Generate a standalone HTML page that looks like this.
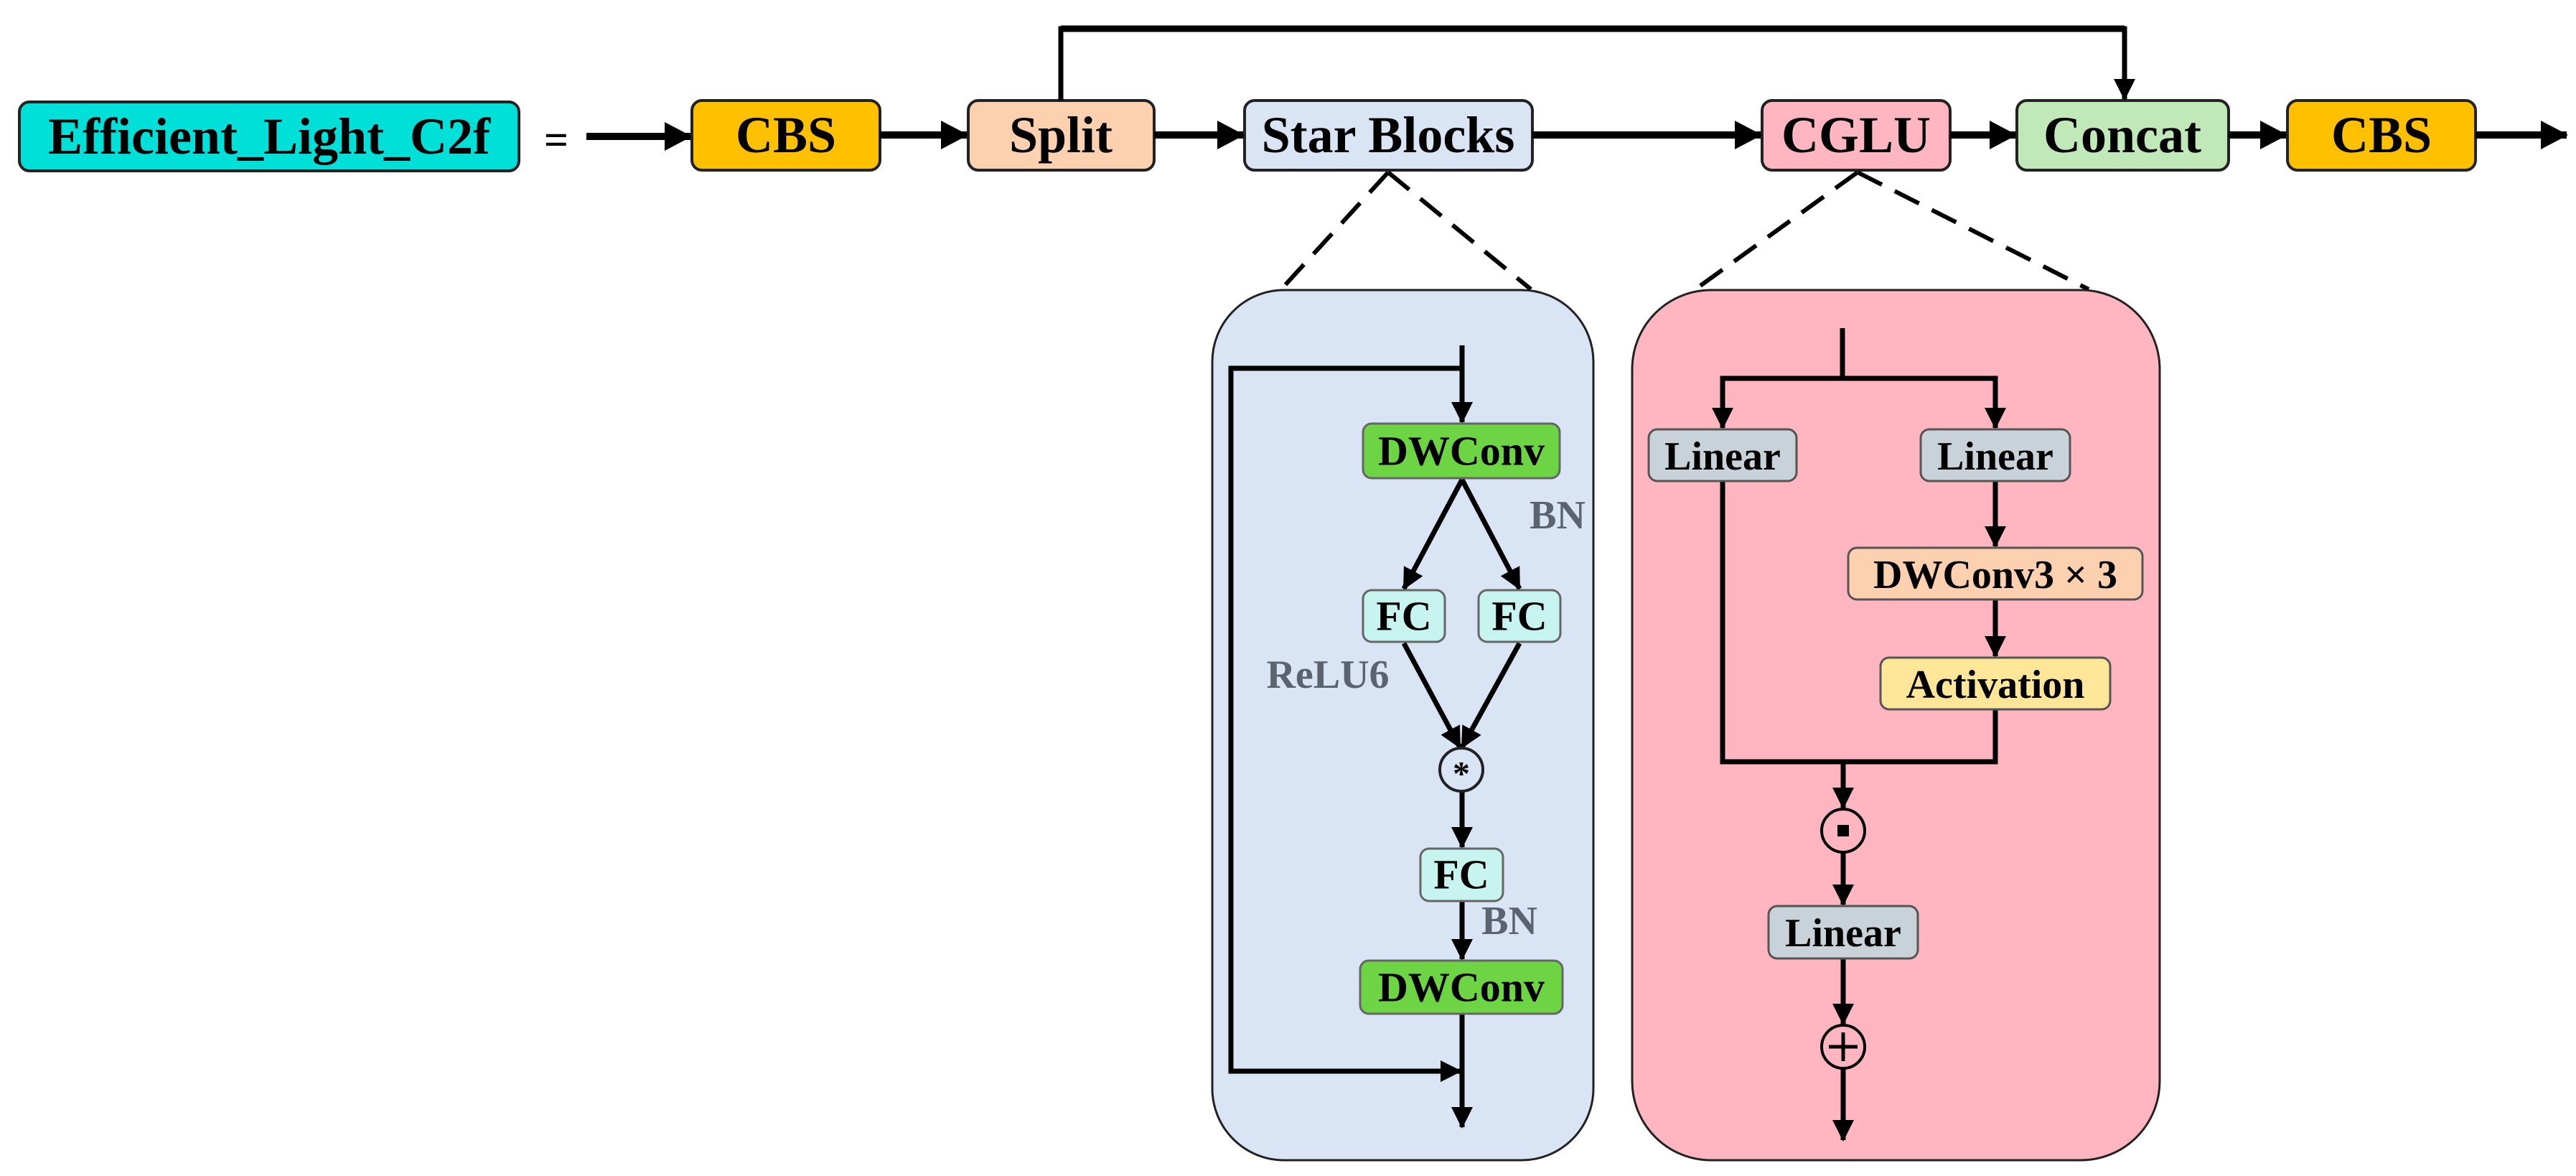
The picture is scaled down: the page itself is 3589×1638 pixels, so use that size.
<!DOCTYPE html>
<html><head><meta charset="utf-8"><style>
html,body{margin:0;padding:0;background:#fff}
svg{display:block}
text{font-family:"Liberation Serif",serif;font-weight:bold;text-anchor:middle;dominant-baseline:central}
</style></head><body>
<svg width="3589" height="1638" viewBox="0 0 3589 1638" xmlns="http://www.w3.org/2000/svg">
<defs>
<marker id="a" markerUnits="userSpaceOnUse" markerWidth="44" markerHeight="44" refX="36" refY="20" orient="auto"><path d="M0,0 L38,20 L0,40 z" fill="#000"/></marker>
<marker id="b" markerUnits="userSpaceOnUse" markerWidth="40" markerHeight="40" refX="28" refY="15" orient="auto"><path d="M0,0 L30,15 L0,30 z" fill="#000"/></marker>
</defs>

<g stroke="#222" stroke-width="4">
<rect x="27" y="142" width="696" height="96" rx="14" fill="#00e0d8"/>
<rect x="964" y="140" width="262" height="97" rx="14" fill="#ffc000"/>
<rect x="1349" y="140" width="259" height="97" rx="14" fill="#fdd0b0"/>
<rect x="1734" y="140" width="401" height="97" rx="14" fill="#d9e4f4"/>
<rect x="2455" y="140" width="262" height="97" rx="14" fill="#ffb6c1"/>
<rect x="2810" y="140" width="295" height="97" rx="14" fill="#c0e8b8"/>
<rect x="3187" y="140" width="262" height="97" rx="14" fill="#ffc000"/>
</g>
<g font-size="72">
<text x="375" y="190">Efficient_Light_C2f</text>
<text x="1095" y="188">CBS</text>
<text x="1478" y="188">Split</text>
<text x="1934" y="188">Star Blocks</text>
<text x="2586" y="188">CGLU</text>
<text x="2957" y="188">Concat</text>
<text x="3318" y="188">CBS</text>
</g>
<text x="775" y="195" font-size="60" font-weight="normal">=</text>

<g stroke="#000" stroke-width="10" fill="none" marker-end="url(#a)">
<line x1="817" y1="190" x2="962" y2="190"/>
<line x1="1226" y1="188" x2="1347" y2="188"/>
<line x1="1608" y1="188" x2="1732" y2="188"/>
<line x1="2135" y1="188" x2="2453" y2="188"/>
<line x1="2717" y1="188" x2="2808" y2="188"/>
<line x1="3105" y1="188" x2="3185" y2="188"/>
<line x1="3449" y1="188" x2="3576" y2="188"/>
</g>
<polyline points="1478,140 1478,40 2960,40 2960,138" stroke="#000" stroke-width="7" fill="none" marker-end="url(#b)"/>
<line x1="1478" y1="40" x2="2960" y2="40" stroke="#000" stroke-width="9"/>

<g stroke="#000" stroke-width="6" stroke-dasharray="38,20" fill="none">
<line x1="1934" y1="240" x2="1785" y2="403"/>
<line x1="1934" y1="240" x2="2133" y2="403"/>
<line x1="2588" y1="240" x2="2362" y2="403"/>
<line x1="2588" y1="240" x2="2910" y2="403"/>
</g>

<rect x="1689" y="404" width="531" height="1212" rx="100" fill="#d9e4f5" stroke="#222" stroke-width="3"/>
<rect x="2274" y="404" width="735" height="1212" rx="110" fill="#ffb6c1" stroke="#222" stroke-width="3"/>

<g stroke="#000" stroke-width="7" fill="none">
<line x1="2037" y1="481" x2="2037" y2="588" marker-end="url(#b)"/>
<polyline points="2037,513 1715,513 1715,1492 2035,1492" marker-end="url(#b)"/>
<line x1="2037" y1="668" x2="1956" y2="820" marker-end="url(#b)"/>
<line x1="2037" y1="668" x2="2117" y2="820" marker-end="url(#b)"/>
<line x1="1956" y1="896" x2="2034" y2="1041" marker-end="url(#b)"/>
<line x1="2117" y1="896" x2="2037" y2="1041" marker-end="url(#b)"/>
<line x1="2037" y1="1100" x2="2037" y2="1180" marker-end="url(#b)"/>
<line x1="2037" y1="1256" x2="2037" y2="1336" marker-end="url(#b)"/>
<line x1="2037" y1="1412" x2="2037" y2="1570" marker-end="url(#b)"/>
</g>
<g stroke="#666" stroke-width="3">
<rect x="1899" y="590" width="274" height="76" rx="12" fill="#6dd444"/>
<rect x="1899" y="822" width="114" height="72" rx="12" fill="#c8f4f0"/>
<rect x="2060" y="822" width="114" height="72" rx="12" fill="#c8f4f0"/>
<rect x="1979" y="1182" width="115" height="73" rx="12" fill="#c8f4f0"/>
<rect x="1895" y="1338" width="282" height="74" rx="12" fill="#6dd444"/>
</g>
<circle cx="2036" cy="1072" r="30" fill="#d9e4f5" stroke="#222" stroke-width="4"/>
<text x="2036" y="1078" font-size="48">*</text>
<g font-size="58">
<text x="2036" y="628">DWConv</text>
<text x="1956" y="858">FC</text>
<text x="2117" y="858">FC</text>
<text x="2036" y="1218">FC</text>
<text x="2036" y="1375">DWConv</text>
</g>
<g font-size="56" fill="#5c6370">
<text x="2170" y="718">BN</text>
<text x="1850" y="940">ReLU6</text>
<text x="2103" y="1283">BN</text>
</g>

<g stroke="#000" stroke-width="7" fill="none">
<polyline points="2567,457 2567,527"/>
<polyline points="2400,596 2400,527 2780,527 2780,596"/>
<line x1="2400" y1="527" x2="2400" y2="596" marker-end="url(#b)"/>
<line x1="2780" y1="527" x2="2780" y2="596" marker-end="url(#b)"/>
<line x1="2780" y1="670" x2="2780" y2="761" marker-end="url(#b)"/>
<line x1="2780" y1="835" x2="2780" y2="914" marker-end="url(#b)"/>
<polyline points="2400,670 2400,1061 2780,1061 2780,988"/>
<line x1="2568" y1="1061" x2="2568" y2="1125" marker-end="url(#b)"/>
<line x1="2568" y1="1187" x2="2568" y2="1260" marker-end="url(#b)"/>
<line x1="2568" y1="1335" x2="2568" y2="1426" marker-end="url(#b)"/>
<line x1="2568" y1="1488" x2="2568" y2="1588" marker-end="url(#b)"/>
</g>
<g stroke="#555" stroke-width="3">
<rect x="2297" y="598" width="206" height="72" rx="12" fill="#c8d2d8"/>
<rect x="2676" y="598" width="208" height="72" rx="12" fill="#c8d2d8"/>
<rect x="2575" y="763" width="410" height="72" rx="12" fill="#fdd0b0"/>
<rect x="2620" y="916" width="320" height="72" rx="12" fill="#ffe699"/>
<rect x="2464" y="1262" width="208" height="73" rx="12" fill="#c8d2d8"/>
</g>
<circle cx="2568" cy="1157" r="30" fill="none" stroke="#000" stroke-width="4"/>
<rect x="2560" y="1149" width="16" height="16" fill="#000"/>
<circle cx="2568" cy="1458" r="30" fill="none" stroke="#000" stroke-width="4"/>
<path d="M2548,1458 H2588 M2568,1438 V1478" stroke="#000" stroke-width="5"/>
<g font-size="56">
<text x="2400" y="636">Linear</text>
<text x="2780" y="636">Linear</text>
<text x="2780" y="801">DWConv3 × 3</text>
<text x="2780" y="954">Activation</text>
<text x="2568" y="1300">Linear</text>
</g>
</svg>
</body></html>
